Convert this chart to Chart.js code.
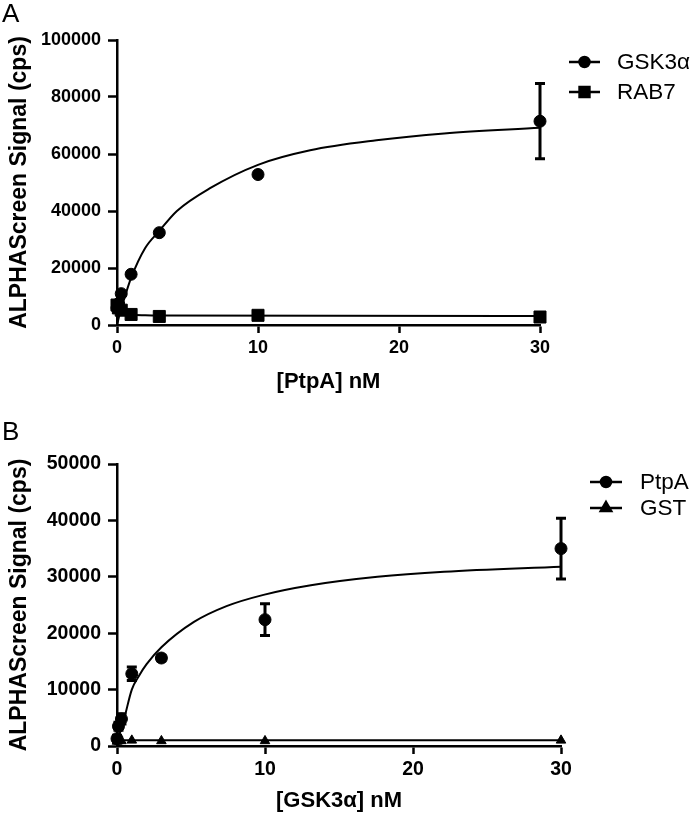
<!DOCTYPE html>
<html><head><meta charset="utf-8">
<script src="https://cdn.jsdelivr.net/npm/chart.js@4"></script>
<style>
html,body{margin:0;padding:0;background:#fff;}
.wrap{position:absolute;left:0;width:693px;height:408px;}
</style>
</head><body>
<div class="wrap" style="top:0"><canvas id="cA" width="693" height="408"></canvas></div>
<div class="wrap" style="top:408px"><canvas id="cB" width="693" height="408"></canvas></div>
<script>
// ---------- Panel A data ----------
const concA = [0, 0.1, 0.3, 1, 3, 10, 30];
const gsk3aSignal = [6000, 7500, 11000, 17800, 32400, 52800, 71500];
const gsk3aError  = [0, 0, 0, 0, 0, 0, 13200];
const rab7Signal  = [7000, 6000, 5200, 3700, 3000, 3400, 2800];
const fitAConc    = [0, 0.25, 0.5, 1, 2, 3, 4.25, 6.6, 10, 13.7, 18.4, 23.2, 30];
const fitGsk3a    = [0, 5000, 9000, 16500, 27000, 33000, 40000, 48000, 56200, 61300, 64800, 67200, 69200];
const fitRab7Conc = [0, 0.3, 0.6, 1, 2, 3, 30];
const fitRab7     = [7000, 5200, 4200, 3700, 3400, 3300, 3200];
const xTicksA = [0, 10, 20, 30];
const yTicksA = [0, 20000, 40000, 60000, 80000, 100000];

// ---------- Panel B data ----------
const concB = [0, 0.1, 0.3, 1, 3, 10, 30];
const ptpaSignal = [1300, 3500, 4800, 12800, 15600, 22400, 35000];
const ptpaError  = [600, 700, 900, 1200, 500, 2800, 5400];
const gstSignal  = [800, 900, 900, 1000, 900, 900, 1000];
const fitBConc   = [0, 0.2, 0.5, 1, 1.5, 2, 3, 5.2, 7.4, 9.9, 13.1, 17.6, 22.1, 30];
const fitPtpa    = [0, 2300, 5000, 10000, 12500, 14500, 17500, 22000, 24800, 26800, 28500, 30000, 30900, 31800];
const fitGstConc = [0, 0.5, 30];
const fitGst     = [900, 1000, 1000];
const xTicksB = [0, 10, 20, 30];
const yTicksB = [0, 10000, 20000, 30000, 40000, 50000];

const FONT = "'Liberation Sans', Arial, Helvetica, sans-serif";
const pts = (xs, ys) => xs.map((x, i) => ({x: x, y: ys[i]}));

const errorBars = {
  id: 'errorBars',
  afterDatasetsDraw(chart) {
    const {ctx} = chart;
    const xs = chart.scales.x, ys = chart.scales.y;
    chart.data.datasets.forEach(ds => {
      if (!ds.errors) return;
      ctx.save();
      ctx.strokeStyle = '#000';
      ctx.lineWidth = 3;
      ds.data.forEach((p, i) => {
        const e = ds.errors[i];
        if (!e) return;
        const px = xs.getPixelForValue(p.x);
        const y1 = ys.getPixelForValue(p.y + e);
        const y2 = ys.getPixelForValue(p.y - e);
        ctx.beginPath();
        ctx.moveTo(px, y1); ctx.lineTo(px, y2);
        ctx.moveTo(px - 5, y1); ctx.lineTo(px + 5, y1);
        ctx.moveTo(px - 5, y2); ctx.lineTo(px + 5, y2);
        ctx.stroke();
      });
      ctx.restore();
    });
  }
};

const panelDeco = {
  id: 'panelDeco',
  afterDraw(chart, args, opts) {
    const {ctx} = chart;
    ctx.save();
    ctx.fillStyle = '#000';
    ctx.font = '26px ' + FONT;
    ctx.textBaseline = 'middle';
    ctx.textAlign = 'left';
    ctx.fillText(opts.letter, opts.letterX, opts.letterY);
    ctx.font = '22.5px ' + FONT;
    opts.items.forEach((it, i) => {
      const y = opts.ys[i];
      ctx.strokeStyle = '#000';
      ctx.lineWidth = 2.5;
      ctx.beginPath();
      ctx.moveTo(opts.x1, y); ctx.lineTo(opts.x2, y);
      ctx.stroke();
      ctx.fillStyle = '#000';
      Chart.helpers.drawPoint(ctx, {pointStyle: it.style, radius: it.radius, borderWidth: 1, rotation: 0}, (opts.x1 + opts.x2) / 2, y);
      ctx.fillStyle = '#000';
      ctx.fillText(it.label, opts.textX, y + 1);
    });
    ctx.restore();
  }
};

function makePanel(id, cfg) {
  return new Chart(document.getElementById(id), {
    type: 'scatter',
    data: { datasets: cfg.datasets },
    plugins: [errorBars, panelDeco],
    options: {
      responsive: false,
      animation: false,
      layout: { padding: { left: 0, right: cfg.padRight, top: cfg.padTop, bottom: 0 } },
      plugins: {
        legend: { display: false },
        tooltip: { enabled: false },
        panelDeco: cfg.deco
      },
      scales: {
        x: {
          type: 'linear', min: 0, max: 30,
          afterBuildTicks: s => { s.ticks = cfg.xTicks.map(v => ({value: v})); },
          afterFit: s => { s.height = cfg.xHeight; },
          grid: { display: true, drawOnChartArea: false, drawTicks: true, tickLength: 8, tickWidth: 2.5, tickColor: '#000' },
          border: { display: true, color: '#000', width: 2.5 },
          ticks: { color: '#000', padding: 4, font: { family: FONT, size: cfg.tickSize, weight: 'bold' }, maxRotation: 0, callback: v => String(v) },
          title: { display: true, text: cfg.xTitle, color: '#000', font: { family: FONT, size: 22, weight: 'bold' }, padding: { top: 0, bottom: cfg.xTitlePad } }
        },
        y: {
          type: 'linear', min: 0, max: cfg.yMax,
          afterBuildTicks: s => { s.ticks = cfg.yTicks.map(v => ({value: v})); },
          afterFit: s => { s.width = 117; },
          grid: { display: true, drawOnChartArea: false, drawTicks: true, tickLength: 9, tickWidth: 2.5, tickColor: '#000' },
          border: { display: true, color: '#000', width: 2.5 },
          ticks: { color: '#000', padding: 7, font: { family: FONT, size: cfg.tickSize, weight: 'bold' }, callback: v => String(v) },
          title: { display: true, text: 'ALPHAScreen Signal (cps)', color: '#000', font: { family: FONT, size: 23, weight: 'bold' }, padding: { top: 6, bottom: 0 } }
        }
      }
    }
  });
}

const fitStyle = { showLine: true, pointRadius: 0, borderColor: '#000', borderWidth: 2, cubicInterpolationMode: 'monotone', clip: false };
const ptStyle = (style, r) => ({ showLine: false, pointStyle: style, pointRadius: r, pointBackgroundColor: '#000', pointBorderColor: '#000', pointBorderWidth: 1, clip: false });

makePanel('cA', {
  padRight: 153, padTop: 40, xHeight: 83, xTitlePad: 13, yMax: 100000, tickSize: 18,
  xTicks: xTicksA, yTicks: yTicksA, xTitle: '[PtpA] nM',
  datasets: [
    Object.assign({ label: 'GSK3α fit', data: pts(fitAConc, fitGsk3a) }, fitStyle),
    Object.assign({ label: 'RAB7 fit', data: pts(fitRab7Conc, fitRab7) }, fitStyle),
    Object.assign({ label: 'GSK3α', data: pts(concA, gsk3aSignal), errors: gsk3aError }, ptStyle('circle', 6)),
    Object.assign({ label: 'RAB7', data: pts(concA, rab7Signal) }, ptStyle('rect', 8.5))
  ],
  deco: {
    letter: 'A', letterX: 2, letterY: 15,
    x1: 569, x2: 600, textX: 617, ys: [62, 92],
    items: [ { label: 'GSK3α', style: 'circle', radius: 5 }, { label: 'RAB7', style: 'rect', radius: 7 } ]
  }
});

makePanel('cB', {
  padRight: 132, padTop: 56, xHeight: 70, xTitlePad: 2, yMax: 50000, tickSize: 19.5,
  xTicks: xTicksB, yTicks: yTicksB, xTitle: '[GSK3α] nM',
  datasets: [
    Object.assign({ label: 'PtpA fit', data: pts(fitBConc, fitPtpa) }, fitStyle),
    Object.assign({ label: 'GST fit', data: pts(fitGstConc, fitGst) }, fitStyle),
    Object.assign({ label: 'PtpA', data: pts(concB, ptpaSignal), errors: ptpaError }, ptStyle('circle', 6)),
    Object.assign({ label: 'GST', data: pts(concB, gstSignal) }, ptStyle('triangle', 5.5))
  ],
  deco: {
    letter: 'B', letterX: 2, letterY: 25,
    x1: 590, x2: 622, textX: 640, ys: [74, 100],
    items: [ { label: 'PtpA', style: 'circle', radius: 5 }, { label: 'GST', style: 'triangle', radius: 6 } ]
  }
});
</script>
</body></html>
